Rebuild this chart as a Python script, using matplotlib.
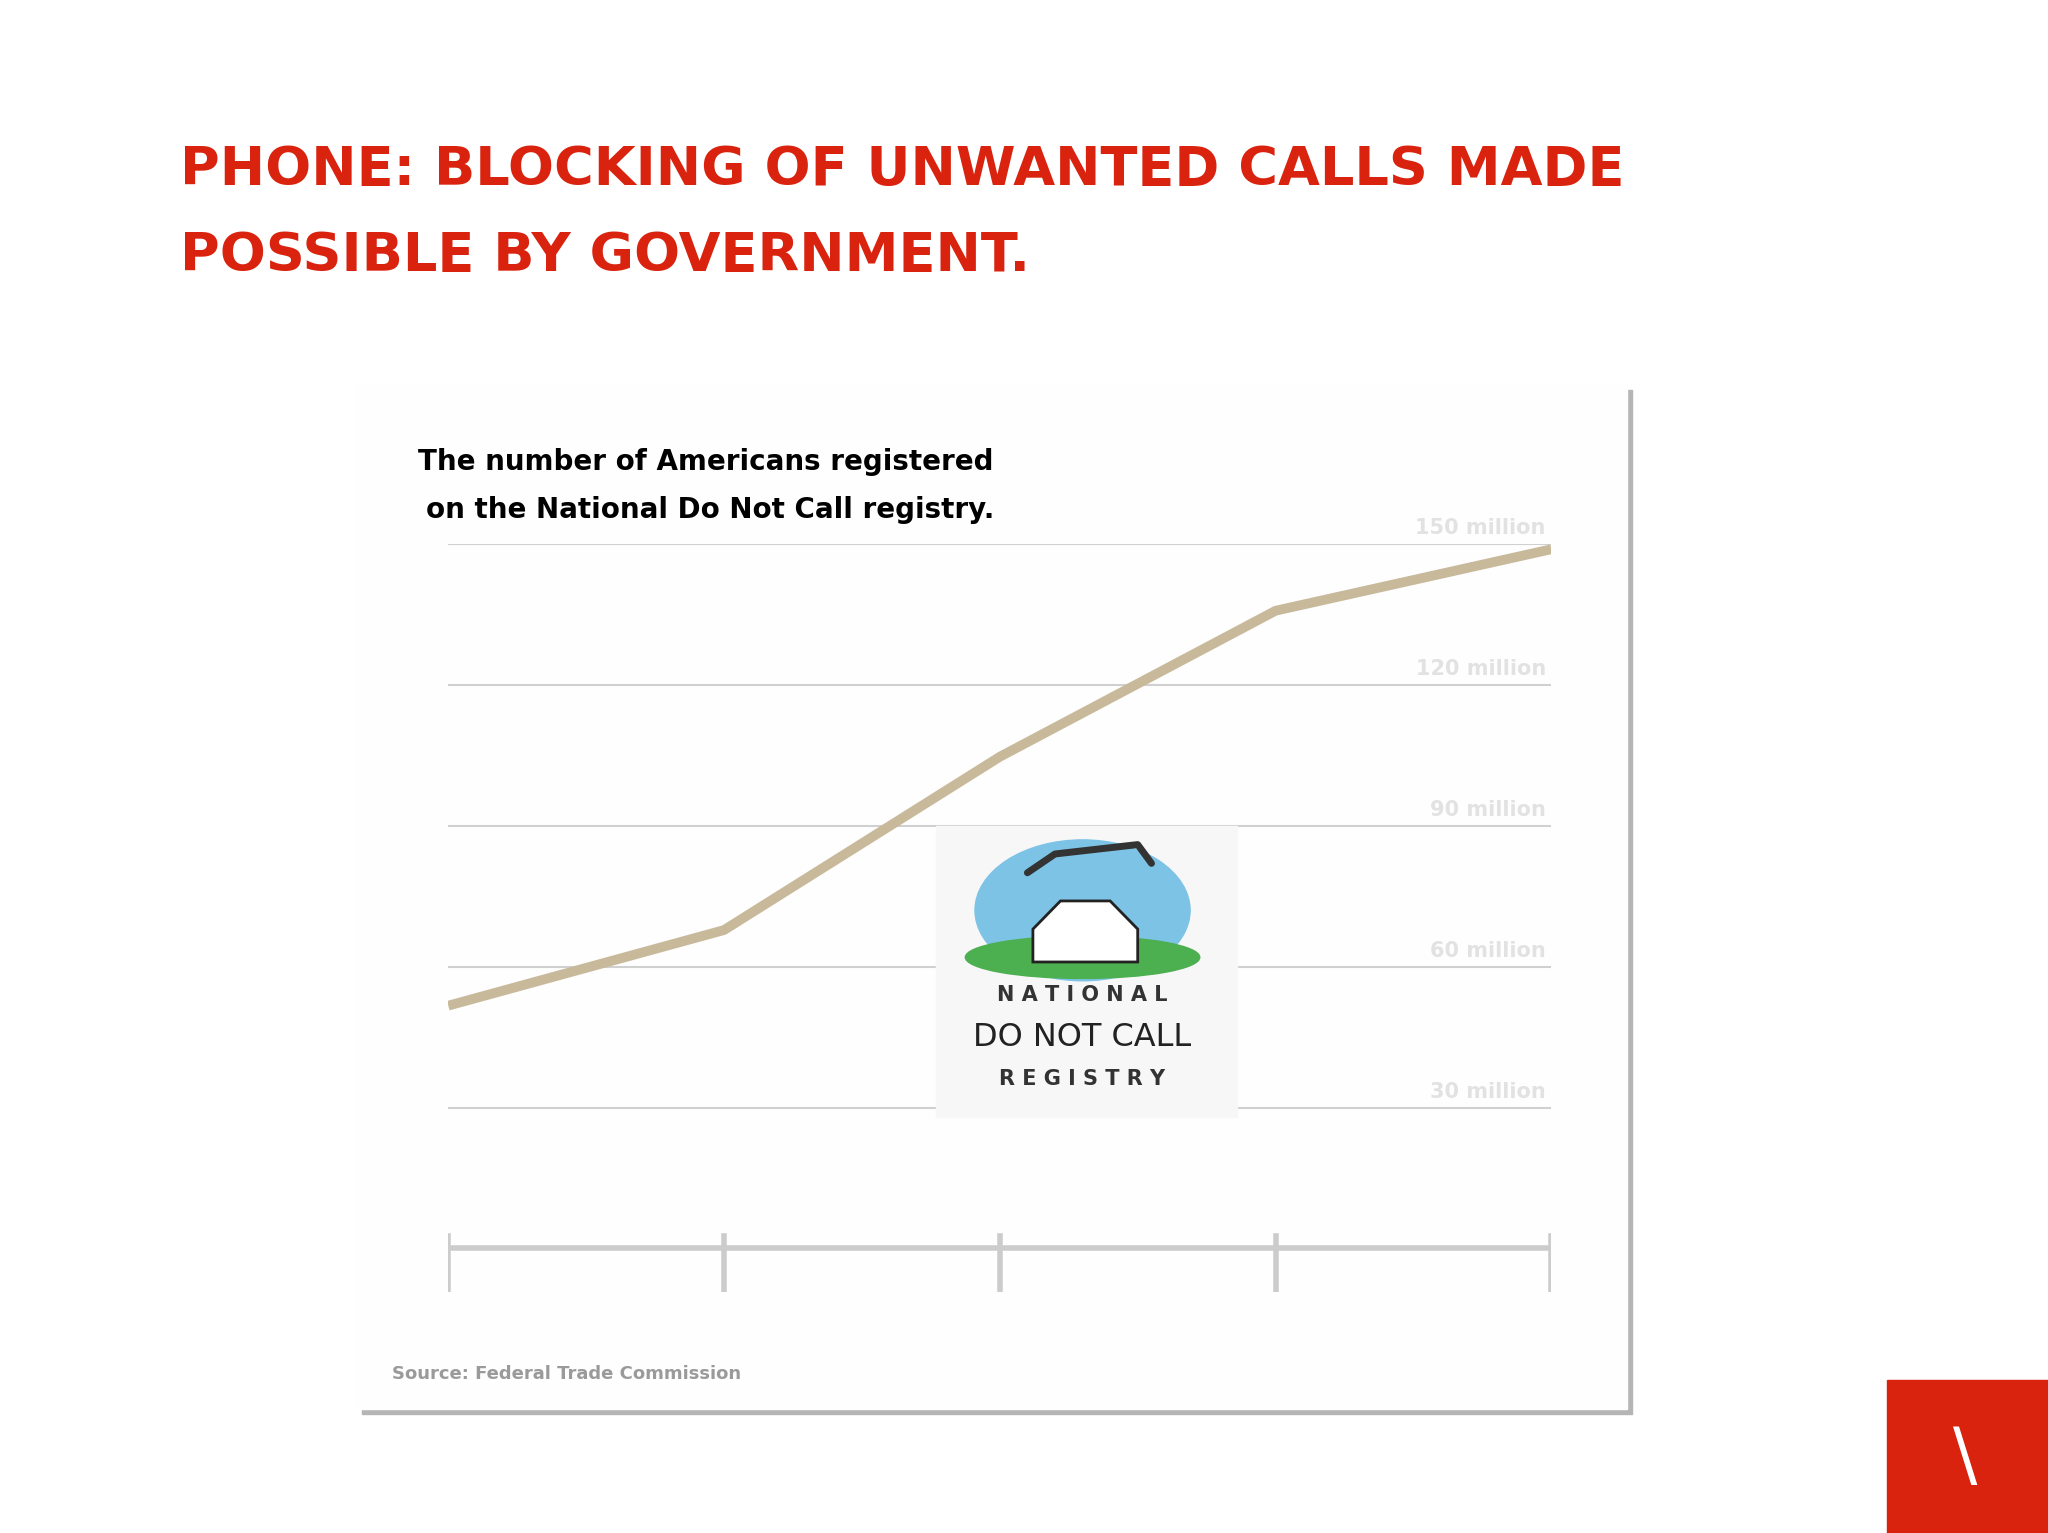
import matplotlib
matplotlib.use("Agg")
import matplotlib.pyplot as plt
from matplotlib.patches import Rectangle, Ellipse, Polygon

years = [0, 1, 2, 3, 4]
registered_m = [51.7, 67.8, 104.7, 135.8, 148.9]
grid_vals = [30, 60, 90, 120, 150]
grid_labels = ["30 million", "60 million", "90 million", "120 million", "150 million"]

W, H = 1567, 1175
fig = plt.figure(figsize=(20.48, 15.33), dpi=100)
fig.patch.set_facecolor("white")
cond = ["Liberation Sans Narrow", "DejaVu Sans"]

def fx(x): return x / W
def fy(y): return 1 - y / H

bg = fig.add_axes([0, 0, 1, 1]); bg.set_xlim(0, W); bg.set_ylim(H, 0); bg.axis("off")
bg.add_patch(Rectangle((277, 299), 972, 785, color="#b5b5b5", zorder=1))
bg.add_patch(Rectangle((273, 295), 972, 785, color="#fefefe", zorder=2))
bg.add_patch(Rectangle((1444, 1058), 123, 117, color="#d9230f", zorder=2))
bg.text(1504, 1118, "\\", color="white", fontsize=52, ha="center", va="center", family=["DejaVu Sans"], zorder=3)
bg.text(138, 130, "PHONE: BLOCKING OF UNWANTED CALLS MADE", color="#d9230f",
        fontsize=39, fontweight="bold", family=cond, va="center", ha="left", zorder=3)
bg.text(138, 196, "POSSIBLE BY GOVERNMENT.", color="#d9230f",
        fontsize=39, fontweight="bold", family=cond, va="center", ha="left", zorder=3)
bg.text(320, 354, "The number of Americans registered", fontsize=20,
        fontweight="bold", family=cond, ha="left", va="center", zorder=3)
bg.text(326, 391, "on the National Do Not Call registry.", fontsize=20,
        fontweight="bold", family=cond, ha="left", va="center", zorder=3)
bg.text(300, 1053, "Source: Federal Trade Commission", fontsize=13, fontweight="bold", family=cond,
        color="#9a9a9a", va="center", zorder=3)

ax = fig.add_axes([fx(343), fy(990), fx(1187) - fx(343), fy(417) - fy(990)])
ax.set_xlim(0, 4); ax.set_ylim(-9.2, 150)
ax.axis("off"); ax.patch.set_alpha(0)
for v, lab in zip(grid_vals, grid_labels):
    ax.axhline(v, color="#d0d0d0", lw=1.5, zorder=1)
    ax.text(3.98, v + 1.2, lab, ha="right", va="bottom", fontsize=15, fontweight="bold",
            family=cond, color="#e2e2e2", zorder=2)

# logo
lx0, lx1 = 1.77, 2.86
ax.add_patch(Rectangle((lx0, 28), lx1 - lx0, 62, color="#f7f7f7", zorder=3))
ax.add_patch(Ellipse((2.3, 72), 0.78, 30, color="#7dc3e6", zorder=4))
ax.add_patch(Ellipse((2.3, 62), 0.85, 9, color="#4caf50", zorder=5))
ax.add_patch(Polygon([[2.12, 61], [2.12, 68], [2.22, 74], [2.4, 74], [2.5, 68], [2.5, 61]],
                     facecolor="white", edgecolor="#222", lw=2, zorder=6))
ax.plot([2.1, 2.2, 2.5, 2.55], [80, 84, 86, 82], color="#333", lw=5, zorder=6, solid_capstyle="round")
ax.text(2.3, 54, "N A T I O N A L", ha="center", va="center", fontsize=15, fontweight="bold", color="#333", zorder=6)
ax.text(2.3, 45, "DO NOT CALL", ha="center", va="center", fontsize=23, color="#222", zorder=6)
ax.text(2.3, 36, "R E G I S T R Y", ha="center", va="center", fontsize=15, fontweight="bold", color="#333", zorder=6)

ax.plot(years, registered_m, color="#c8b99b", lw=7, zorder=7, solid_capstyle="butt")

# x axis
ax.plot([0, 4], [0, 0], color="#cccccc", lw=4, zorder=2)
for x in years:
    ax.plot([x, x], [-9.2, 2.7], color="#cccccc", lw=4, zorder=2)

fig.savefig("out.png", dpi=100)
